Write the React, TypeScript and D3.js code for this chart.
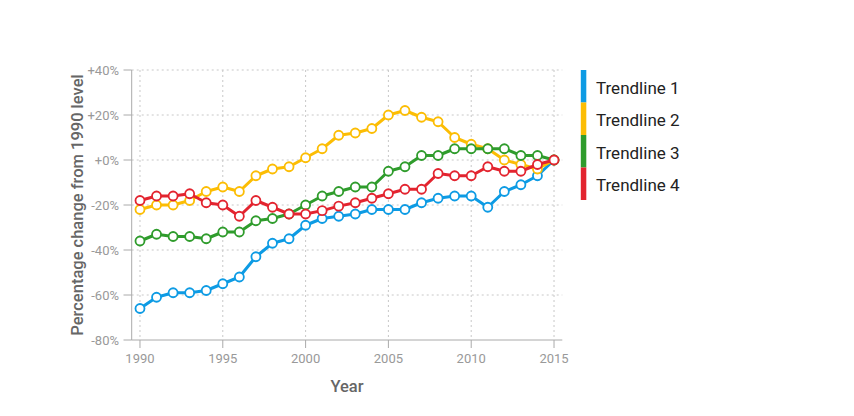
import React from "react";
import * as d3 from "d3";

const years = [1990,1991,1992,1993,1994,1995,1996,1997,1998,1999,2000,2001,2002,2003,2004,2005,2006,2007,2008,2009,2010,2011,2012,2013,2014,2015];
const trend1 = [-66,-61,-59,-59,-58,-55,-52,-43,-37,-35,-29,-26,-25,-24,-22,-22,-22,-19,-17,-16,-16,-21,-14,-11,-7,0];
const trend2 = [-22,-20,-20,-18,-14,-12,-14,-7,-4,-3,1,5,11,12,14,20,22,19,17,10,7,5,0,-2,-4,0];
const trend3 = [-36,-33,-34,-34,-35,-32,-32,-27,-26,-24,-20,-16,-14,-12,-12,-5,-3,2,2,5,5,5,5,2,2,0];
const trend4 = [-18,-16,-16,-15,-19,-20,-25,-18,-21,-24,-24,-22.5,-20.5,-19,-17,-15,-13,-13,-6,-7,-7,-3,-5,-5,-2,0];
const seriesNames = ["Trendline 1","Trendline 2","Trendline 3","Trendline 4"];
const seriesColors = ["#0d9be4","#fcbd04","#2f9c2c","#e3242f"];
const xTicks = [1990,1995,2000,2005,2010,2015];
const yTicks = [40,20,0,-20,-40,-60,-80];

const fmt = (v: number) => (v > 0 ? "+" + v + "%" : v === 0 ? "+0%" : v + "%");

export default function App() {
  const W = 854, H = 416;
  const x = d3.scaleLinear().domain([1989.5, 2015.5]).range([131.7, 562.3]);
  const y = d3.scaleLinear().domain([-80, 40]).range([340, 70]);
  const all = [trend1, trend2, trend3, trend4];
  const line = d3.line<number>().x((_, i) => x(years[i])).y((d) => y(d));
  const font = "Roboto, 'Noto Sans', sans-serif";
  const legendTop = 70, legendH = 32.5;
  return (
    <svg width={W} height={H} style={{ position: "absolute", left: 0, top: 0 }} fontFamily={font}>
      <rect width={W} height={H} fill="#fff" />
      {yTicks.filter((t) => t > -80).map((t) => (
        <line key={"gy" + t} x1={131.7} x2={562.3} y1={y(t)} y2={y(t)} stroke="#c8c8c8" strokeWidth={1} strokeDasharray="2,3" />
      ))}
      {xTicks.map((t) => (
        <line key={"gx" + t} x1={x(t)} x2={x(t)} y1={70} y2={340} stroke="#c8c8c8" strokeWidth={1} strokeDasharray="2,3" />
      ))}
      <line x1={131.7} x2={131.7} y1={70} y2={340} stroke="#aaa" strokeWidth={1} />
      <line x1={131.7} x2={562.3} y1={340} y2={340} stroke="#aaa" strokeWidth={1} />
      {yTicks.map((t) => (
        <g key={"yt" + t}>
          <line x1={123.5} x2={131.7} y1={y(t)} y2={y(t)} stroke="#aaa" />
          <text x={119} y={y(t)} dy="0.35em" textAnchor="end" fontSize={13} fill="#999">{fmt(t)}</text>
        </g>
      ))}
      {xTicks.map((t) => (
        <g key={"xt" + t}>
          <line x1={x(t)} x2={x(t)} y1={340} y2={348} stroke="#aaa" />
          <text x={x(t)} y={358} dy="0.35em" textAnchor="middle" fontSize={13} fill="#999">{t}</text>
        </g>
      ))}
      <text x={347} y={386} dy="0.35em" textAnchor="middle" fontSize={16.5} fontWeight={500} fill="#666">Year</text>
      <text transform={`translate(77,205) rotate(-90)`} dy="0.35em" textAnchor="middle" fontSize={16.5} fontWeight={500} fill="#666">Percentage change from 1990 level</text>
      {all.map((s, si) => (
        <g key={"s" + si}>
          <path d={line(s) || ""} fill="none" stroke={seriesColors[si]} strokeWidth={3} strokeLinejoin="round" />
          {s.map((v, i) => (
            <circle key={i} cx={x(years[i])} cy={y(v)} r={4.5} fill="#fff" stroke={seriesColors[si]} strokeWidth={1.8} />
          ))}
        </g>
      ))}
      {seriesNames.map((n, i) => (
        <g key={"l" + i}>
          <rect x={580.8} y={legendTop + i * legendH} width={5.5} height={legendH} fill={seriesColors[i]} />
          <text x={596} y={legendTop + i * legendH + legendH / 2 + 1.5} dy="0.35em" fontSize={17} fill="#222">{n}</text>
        </g>
      ))}
    </svg>
  );
}
